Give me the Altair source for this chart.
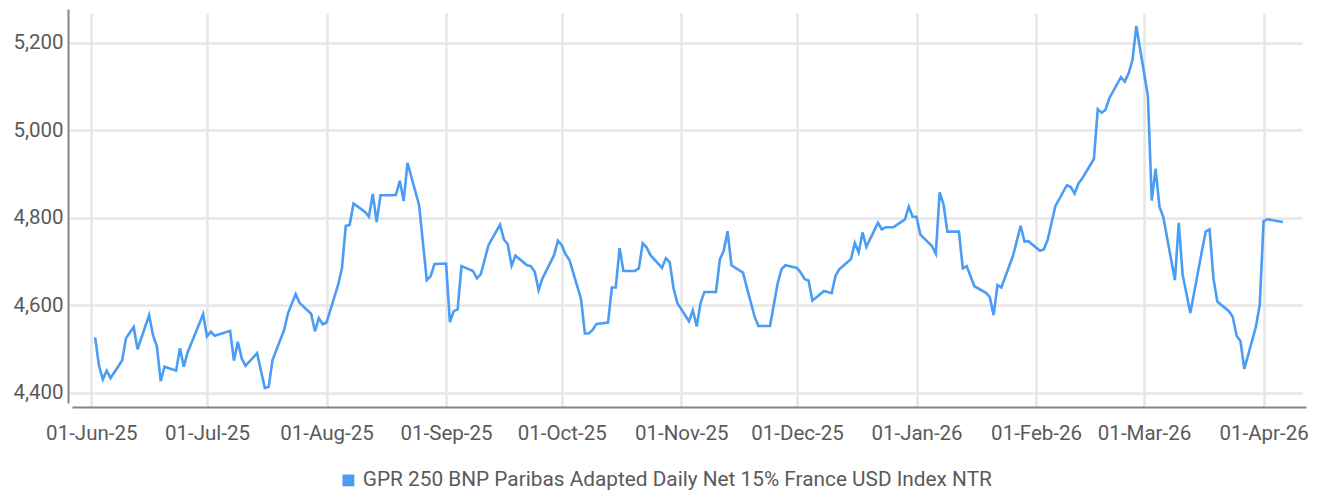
import altair as alt
import pandas as pd

series_name = "GPR 250 BNP Paribas Adapted Daily Net 15% France USD Index NTR"

dates = [
    "2025-06-02", "2025-06-03", "2025-06-04", "2025-06-05", "2025-06-06",
    "2025-06-09", "2025-06-10", "2025-06-12", "2025-06-13",
    "2025-06-16", "2025-06-17", "2025-06-18", "2025-06-19", "2025-06-20",
    "2025-06-23", "2025-06-24", "2025-06-25", "2025-06-26", "2025-06-27",
    "2025-06-30", "2025-07-01", "2025-07-02", "2025-07-03",
    "2025-07-07", "2025-07-08", "2025-07-09", "2025-07-10", "2025-07-11",
    "2025-07-14", "2025-07-16", "2025-07-17", "2025-07-18",
    "2025-07-21", "2025-07-22", "2025-07-24", "2025-07-25",
    "2025-07-28", "2025-07-29", "2025-07-30", "2025-07-31", "2025-08-01",
    "2025-08-04", "2025-08-05", "2025-08-06", "2025-08-07", "2025-08-08",
    "2025-08-11", "2025-08-12", "2025-08-13", "2025-08-14", "2025-08-15",
    "2025-08-18", "2025-08-19", "2025-08-20", "2025-08-21", "2025-08-22",
    "2025-08-25", "2025-08-27", "2025-08-28", "2025-08-29",
    "2025-09-01", "2025-09-02", "2025-09-03", "2025-09-04", "2025-09-05",
    "2025-09-08", "2025-09-09", "2025-09-10", "2025-09-12",
    "2025-09-15", "2025-09-16", "2025-09-17", "2025-09-18", "2025-09-19",
    "2025-09-22", "2025-09-23", "2025-09-24", "2025-09-25", "2025-09-26",
    "2025-09-29", "2025-09-30", "2025-10-01", "2025-10-02", "2025-10-03",
    "2025-10-06", "2025-10-07", "2025-10-08", "2025-10-09", "2025-10-10",
    "2025-10-13", "2025-10-14", "2025-10-15", "2025-10-16", "2025-10-17",
    "2025-10-20", "2025-10-21", "2025-10-22", "2025-10-23", "2025-10-24",
    "2025-10-27", "2025-10-28", "2025-10-29", "2025-10-30", "2025-10-31",
    "2025-11-03", "2025-11-04", "2025-11-05", "2025-11-06", "2025-11-07",
    "2025-11-10", "2025-11-11", "2025-11-12", "2025-11-13", "2025-11-14",
    "2025-11-17", "2025-11-18", "2025-11-19", "2025-11-20", "2025-11-21",
    "2025-11-24", "2025-11-26", "2025-11-27", "2025-11-28",
    "2025-12-01", "2025-12-02", "2025-12-03", "2025-12-04", "2025-12-05",
    "2025-12-08", "2025-12-10", "2025-12-11", "2025-12-12",
    "2025-12-15", "2025-12-16", "2025-12-17", "2025-12-18", "2025-12-19",
    "2025-12-22", "2025-12-23", "2025-12-24", "2025-12-26",
    "2025-12-29", "2025-12-30", "2025-12-31", "2026-01-01", "2026-01-02",
    "2026-01-05", "2026-01-06", "2026-01-07", "2026-01-08", "2026-01-09",
    "2026-01-12", "2026-01-13", "2026-01-14", "2026-01-16",
    "2026-01-19", "2026-01-20", "2026-01-21", "2026-01-22", "2026-01-23",
    "2026-01-26", "2026-01-28", "2026-01-29", "2026-01-30",
    "2026-02-02", "2026-02-03", "2026-02-04", "2026-02-06",
    "2026-02-09", "2026-02-10", "2026-02-11", "2026-02-12", "2026-02-13",
    "2026-02-16", "2026-02-17", "2026-02-18", "2026-02-19", "2026-02-20",
    "2026-02-23", "2026-02-24", "2026-02-25", "2026-02-26", "2026-02-27",
    "2026-03-02", "2026-03-03", "2026-03-04", "2026-03-05", "2026-03-06",
    "2026-03-09", "2026-03-10", "2026-03-11", "2026-03-13",
    "2026-03-16", "2026-03-17", "2026-03-18", "2026-03-19", "2026-03-20",
    "2026-03-23", "2026-03-24", "2026-03-25", "2026-03-26", "2026-03-27",
    "2026-03-30", "2026-03-31", "2026-04-01", "2026-04-02", "2026-04-06",
]

values = [
    4526, 4461, 4430, 4450, 4433,
    4473, 4524, 4550, 4499,
    4577, 4531, 4506, 4426, 4459,
    4450, 4501, 4459, 4492, 4514,
    4579, 4528, 4539, 4530,
    4541, 4473, 4516, 4478, 4461,
    4490, 4410, 4413, 4474,
    4543, 4581, 4625, 4605,
    4580, 4540, 4570, 4556, 4560,
    4646, 4684, 4781, 4783, 4832,
    4813, 4802, 4854, 4790, 4851,
    4851, 4852, 4884, 4838, 4925,
    4829, 4657, 4666, 4694,
    4695, 4561, 4586, 4590, 4689,
    4678, 4661, 4670, 4737,
    4784, 4750, 4739, 4690, 4713,
    4691, 4689, 4676, 4634, 4661,
    4714, 4747, 4737, 4716, 4703,
    4614, 4535, 4535, 4543, 4557,
    4560, 4640, 4640, 4730, 4678,
    4678, 4684, 4741, 4732, 4714,
    4685, 4707, 4698, 4638, 4604,
    4563, 4588, 4551, 4605, 4630,
    4630, 4704, 4724, 4769, 4691,
    4674, 4640, 4607, 4574, 4552,
    4552, 4650, 4682, 4691,
    4685, 4674, 4659, 4656, 4610,
    4632, 4627, 4667, 4682,
    4705, 4742, 4720, 4766, 4733,
    4788, 4773, 4778, 4778,
    4796, 4825, 4802, 4802, 4761,
    4735, 4717, 4858, 4830, 4768,
    4768, 4684, 4689, 4643,
    4628, 4618, 4577, 4646, 4640,
    4712, 4781, 4745, 4746,
    4724, 4727, 4749, 4826,
    4874, 4870, 4855, 4878, 4890,
    4934, 5048, 5040, 5046, 5073,
    5121, 5111, 5130, 5160, 5238,
    5078, 4839, 4912, 4825, 4801,
    4657, 4788, 4670, 4582,
    4723, 4768, 4773, 4661, 4608,
    4586, 4573, 4530, 4518, 4454,
    4550, 4600, 4792, 4796, 4790,
]

y_ticks = [4400, 4600, 4800, 5000, 5200]
x_tick_months = [
    (2025, 6), (2025, 7), (2025, 8), (2025, 9), (2025, 10), (2025, 11),
    (2025, 12), (2026, 1), (2026, 2), (2026, 3), (2026, 4),
]

df = pd.DataFrame({"date": dates, "value": values, "series": series_name})

FONT = "Roboto, Liberation Sans, sans-serif"
TEXT = "#5a5a5a"
BLUE = "#4A9DF5"

chart = (
    alt.Chart(df)
    .mark_line(strokeWidth=2.6, interpolate="linear")
    .encode(
        x=alt.X(
            "date:T",
            title=None,
            scale=alt.Scale(
                type="utc",
                domain=[
                    alt.DateTime(year=2025, month=5, date=27, utc=True),
                    alt.DateTime(year=2026, month=4, date=12, utc=True),
                ],
            ),
            axis=alt.Axis(
                values=[alt.DateTime(year=y, month=m, date=1, utc=True) for y, m in x_tick_months],
                format="%d-%b-%y",
                labelPadding=16,
                labelFontSize=20.5,
            ),
        ),
        y=alt.Y(
            "value:Q",
            title=None,
            scale=alt.Scale(domain=[4376, 5277], nice=False, zero=False),
            axis=alt.Axis(values=y_ticks, format=",.0f", labelPadding=5, labelFontSize=20.5),
        ),
        color=alt.Color(
            "series:N",
            title=None,
            scale=alt.Scale(range=[BLUE]),
            legend=alt.Legend(
                orient="none",
                legendX=266,
                legendY=461,
                padding=0,
                symbolOffset=0,
                labelOffset=4,
                symbolType="square",
                symbolSize=140,
                symbolFillColor=BLUE,
                symbolStrokeColor=BLUE,
                symbolStrokeWidth=0,
                labelFont=FONT,
                labelFontSize=20.8,
                labelColor=TEXT,
                labelLimit=1000,
            ),
        ),
    )
    .properties(
        width=1234,
        height=394,
        autosize=alt.AutoSizeParams(type="none"),
        padding={"left": 64, "top": 1, "right": 7, "bottom": 92},
    )
    .configure_view(strokeWidth=0)
    .configure_axis(
        labelFont=FONT,
        labelColor=TEXT,
        domainColor="#858585",
        domainWidth=2,
        ticks=False,
        grid=True,
        gridColor="#e6e6e6",
        gridWidth=2.5,
        offset=4,
    )
)

chart.save("out.html", embed_options={"renderer": "svg", "actions": False})
